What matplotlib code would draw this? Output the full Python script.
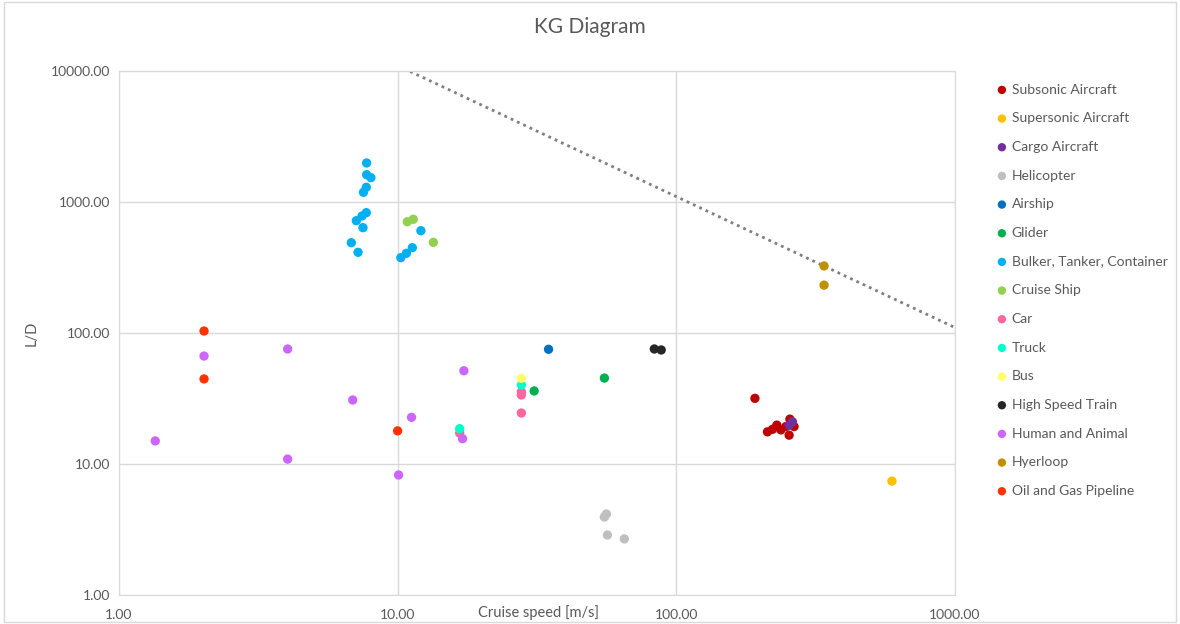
import matplotlib
matplotlib.use("Agg")
import matplotlib.pyplot as plt
from matplotlib.patches import Rectangle
from matplotlib.ticker import FixedLocator, FormatStrFormatter, NullLocator

plt.rcParams['font.family'] = ['Lato', 'DejaVu Sans']

# values (cruise speed [m/s], L/D)
subsonic_v = [191.5, 212.4, 221.4, 229.5, 237.3, 247.2, 255.6, 254.0, 264.6, 258.0]
subsonic_ld = [31.7, 17.6, 18.4, 19.8, 18.2, 19.3, 22.0, 16.6, 19.3, 21.0]
supersonic_v = [594.0]
supersonic_ld = [7.4]
cargo_v = [254.0, 261.0]
cargo_ld = [19.8, 21.0]
heli_v = [55.2, 56.1, 56.6, 65.1]
heli_ld = [3.94, 4.15, 2.87, 2.68]
airship_v = [34.8]
airship_ld = [75.1]
glider_v = [30.9, 55.2]
glider_ld = [36.1, 45.3]
bulker_v = [7.74, 7.74, 8.02, 7.72, 7.54, 7.72, 7.45, 7.11, 7.51, 6.82, 7.21,
            12.12, 11.29, 10.75, 10.27]
bulker_ld = [1986, 1616, 1534, 1295, 1186, 829, 782, 720, 637, 489, 413,
             604, 448, 406, 376]
cruise_v = [10.83, 11.38, 13.43]
cruise_ld = [707, 738, 492]
car_v = [27.8, 27.8, 27.8, 16.7]
car_ld = [33.6, 35.6, 24.5, 17.2]
truck_v = [27.8, 16.7]
truck_ld = [40.1, 18.6]
bus_v = [27.8]
bus_ld = [45.1]
train_v = [83.4, 88.3]
train_ld = [75.5, 74.2]
human_v = [1.35, 2.02, 4.03, 4.03, 6.90, 10.08, 11.22, 17.29, 17.1]
human_ld = [15.0, 66.7, 75.5, 10.9, 30.8, 8.24, 22.7, 51.5, 15.6]
hyper_v = [339.0, 339.0]
hyper_ld = [325.0, 232.0]
pipe_v = [2.02, 2.02, 10.0]
pipe_ld = [103.5, 44.6, 17.9]

# dotted limit line
limit_v = [10.0, 1000.0]
limit_ld = [11000.0, 110.0]

series = [
    ("Subsonic Aircraft", subsonic_v, subsonic_ld, "#C00000"),
    ("Supersonic Aircraft", supersonic_v, supersonic_ld, "#FFC000"),
    ("Cargo Aircraft", cargo_v, cargo_ld, "#7030A0"),
    ("Helicopter", heli_v, heli_ld, "#BFBFBF"),
    ("Airship", airship_v, airship_ld, "#0070C0"),
    ("Glider", glider_v, glider_ld, "#00B050"),
    ("Bulker, Tanker, Container", bulker_v, bulker_ld, "#00B0F0"),
    ("Cruise Ship", cruise_v, cruise_ld, "#92D050"),
    ("Car", car_v, car_ld, "#FF6699"),
    ("Truck", truck_v, truck_ld, "#00FFCC"),
    ("Bus", bus_v, bus_ld, "#FFFF66"),
    ("High Speed Train", train_v, train_ld, "#262626"),
    ("Human and Animal", human_v, human_ld, "#CC66FF"),
    ("Hyerloop", hyper_v, hyper_ld, "#BF9000"),
    ("Oil and Gas Pipeline", pipe_v, pipe_ld, "#FF3300"),
]

fig = plt.figure(figsize=(11.8, 6.24), dpi=100)
ax = fig.add_axes([0.1008, 0.0465, 0.7085, 0.8397])

ax.plot(limit_v, limit_ld, color="#7F7F7F", linestyle=(0, (1, 1.5)), linewidth=2, zorder=2)

for name, v, ld, col in series:
    ax.scatter(v, ld, s=45, color=col, edgecolors="none", label=name, zorder=3)

ax.set_xscale("log")
ax.set_yscale("log")
ax.set_xlim(1, 1000)
ax.set_ylim(1, 10000)
ax.xaxis.set_major_locator(FixedLocator([1, 10, 100, 1000]))
ax.yaxis.set_major_locator(FixedLocator([1, 10, 100, 1000, 10000]))
ax.xaxis.set_minor_locator(NullLocator())
ax.yaxis.set_minor_locator(NullLocator())
ax.xaxis.set_major_formatter(FormatStrFormatter("%.2f"))
ax.yaxis.set_major_formatter(FormatStrFormatter("%.2f"))
ax.tick_params(length=0, labelsize=10, colors="#595959", pad=6)
ax.tick_params(axis="x", pad=10)
ax.grid(True, color="#D9D9D9", linewidth=1)
for s in ax.spines.values():
    s.set_color("#D9D9D9")
ax.set_axisbelow(True)

fig.text(0.5, 1 - 27 / 624, "KG Diagram", ha="center", va="center", fontsize=15, color="#595959")
fig.text(538 / 1180, 1 - 613 / 624, "Cruise speed [m/s]", ha="center", va="center",
         fontsize=10.5, color="#595959")
fig.text(32 / 1180, 1 - 333 / 624, "L/D", ha="center", va="center", rotation=90,
         fontsize=10.5, color="#595959")

fig.legend(loc="upper left", bbox_to_anchor=(988 / 1180, 1 - 78 / 624), frameon=False,
           fontsize=10, labelcolor="#595959", handletextpad=0.1, labelspacing=1.2,
           markerscale=0.9, borderaxespad=0, handlelength=1.2)

fig.patches.append(Rectangle((0.003, 0.003), 0.994, 0.994, transform=fig.transFigure,
                             fill=False, edgecolor="#D9D9D9", linewidth=1))

fig.savefig("out.png", dpi=100)
